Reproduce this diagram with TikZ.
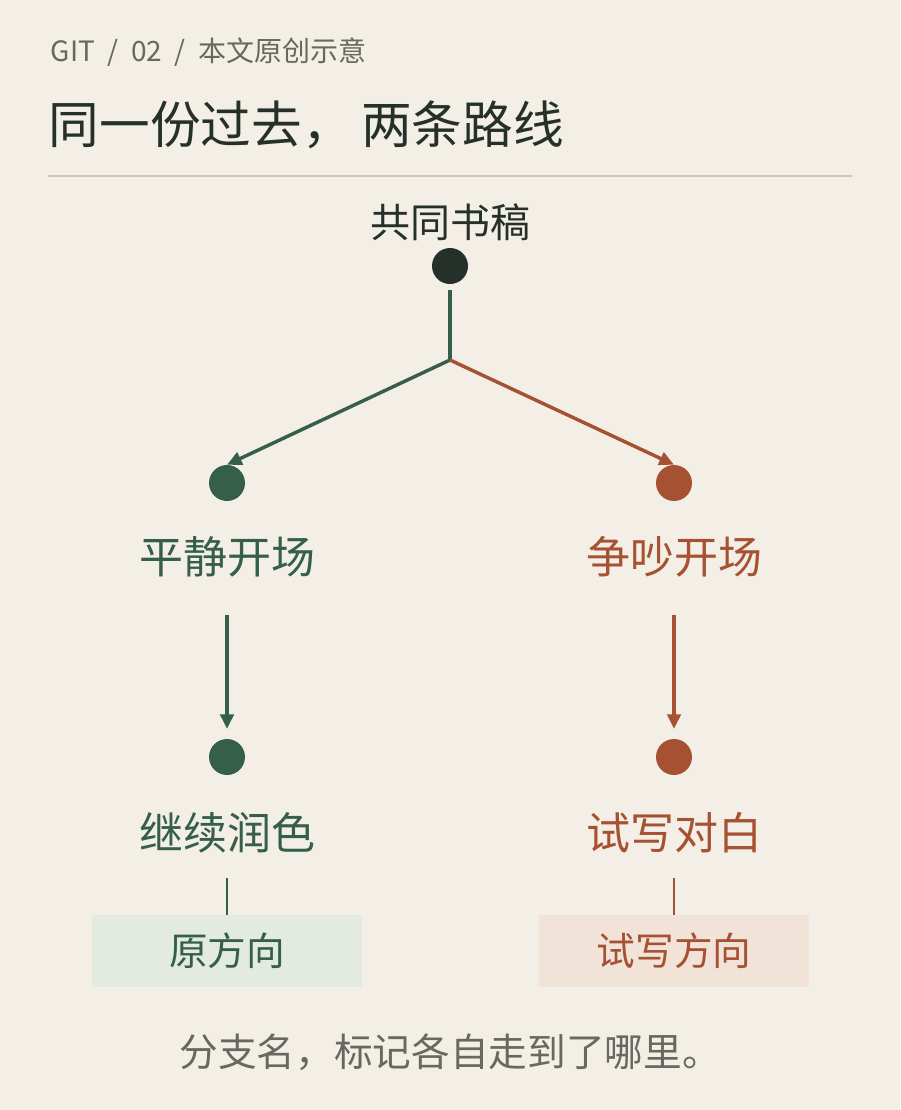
\documentclass[tikz,border=0pt]{standalone}
\usepackage{fontspec}
\setmainfont{Noto Sans CJK SC}
\usetikzlibrary{arrows.meta}
\definecolor{bg}{HTML}{F3EFE6}
\definecolor{gr}{HTML}{355E4B}
\definecolor{rd}{HTML}{A65232}
\definecolor{dk}{HTML}{243029}
\definecolor{gy}{HTML}{66695F}
\definecolor{rule}{HTML}{C8C8BC}
\definecolor{gbox}{HTML}{E3EADF}
\definecolor{rbox}{HTML}{F2E3D8}
\begin{document}
\begin{tikzpicture}[x=0.75pt,y=-0.75pt,
  dot/.style={circle,inner sep=0pt,minimum size=27pt},
  lbl/.style={font=\fontsize{33}{38}\selectfont},
  arr/.style={line width=2.6pt,-{Triangle[length=11pt,width=10pt]}},
  ln/.style={line width=2.6pt},
  box/.style={minimum width=202.5pt,minimum height=54pt,inner sep=0pt,font=\fontsize{29}{34}\selectfont}]
\useasboundingbox[fill=bg] (0,0) rectangle (900,1110);
\node[anchor=west,text=gy,font=\fontsize{21}{24}\selectfont] (hdr) at (46,52) {GIT\ \ /\ \ 02\ \ /\ \ 本文原创示意};
\node[anchor=west,text=dk,font=\fontsize{38}{44}\selectfont] (title) at (44,125) {同一份过去，\,两条路线};
\coordinate (r1) at (48,176); \coordinate (r2) at (852,176);
\draw[rule,line width=1.2pt] (r1) -- (r2);
\node[text=dk,font=\fontsize{30}{34}\selectfont] (base) at (450,222) {共同书稿};
\node[dot,fill=dk] (d0) at (450,266) {};
\coordinate (fork) at (450,360);
\node[dot,fill=gr] (g1) at (227,483) {};
\node[dot,fill=rd] (r1d) at (674,483) {};
\draw[ln,gr] (450,290) -- (fork);
\draw[arr,gr] (fork) -- (g1.north);
\draw[arr,rd] (fork) -- (r1d.north);
\node[lbl,text=gr] (gl1) at (227,557) {平静开场};
\node[lbl,text=rd] (rl1) at (674,557) {争吵开场};
\node[dot,fill=gr] (g2) at (227,757) {};
\node[dot,fill=rd] (r2d) at (674,757) {};
\coordinate (ga) at (227,615); \coordinate (ra) at (674,615);
\draw[arr,gr] (ga) -- (227,729);
\draw[arr,rd] (ra) -- (674,729);
\node[lbl,text=gr] (gl2) at (227,833) {继续润色};
\node[lbl,text=rd] (rl2) at (674,833) {试写对白};
\node[box,fill=gbox,text=gr] (gb) at (227,951) {原方向};
\node[box,fill=rbox,text=rd] (rb) at (674,951) {试写方向};
\draw[gr,line width=1.8pt] (227,878) -- (gb.north);
\draw[rd,line width=1.8pt] (674,878) -- (rb.north);
\node[text=gy,font=\fontsize{29}{34}\selectfont] (foot) at (450,1052) {分支名，标记各自走到了哪里。};
\end{tikzpicture}
\end{document}
